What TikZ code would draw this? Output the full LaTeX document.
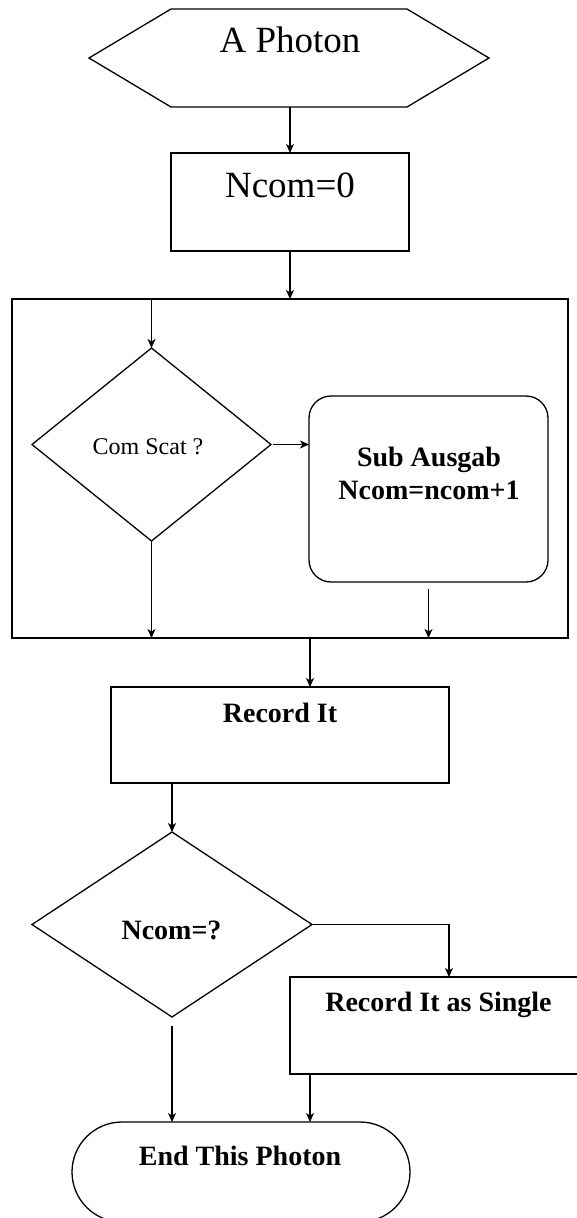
\documentclass[tikz,border=0pt]{standalone}
\usepackage{fontspec}
\setmainfont{Liberation Serif}
\usetikzlibrary{arrows.meta,shapes.geometric,shapes.misc,calc}
\begin{document}
\begin{tikzpicture}[x=1pt,y=-1pt,
  line width=1.3pt,
  box/.style={draw, rectangle, inner sep=0pt, outer sep=0pt},
  dia/.style={draw, diamond, inner sep=0pt, outer sep=0pt},
  arr/.style={-{Stealth[length=9pt,width=8pt,inset=2.5pt]}},
  largetext/.style={font=\fontsize{37}{44}\selectfont},
  boldtext/.style={font=\fontsize{28}{33}\selectfont\bfseries},
  txt/.style={anchor=base, inner sep=0pt},
]
\useasboundingbox (0,0) rectangle (577,1218);

% start hexagon
\node[inner sep=0pt, outer sep=0pt, minimum width=400pt, minimum height=98pt] (hex) at (289,58) {};
\draw (hex.west) -- ([xshift=82pt]hex.north west) -- ([xshift=-82pt]hex.north east)
  -- (hex.east) -- ([xshift=-82pt]hex.south east) -- ([xshift=82pt]hex.south west) -- cycle;
\node[txt, largetext] (t0) at (290,52) {A Photon};

\node[box, minimum width=238pt, minimum height=98pt] (n0) at (290,202) {};
\node[txt, largetext] (t1) at (290,197) {Ncom=0};

\node[box, minimum width=556pt, minimum height=339pt] (bigbox) at (290,468.5) {};

\node[dia, minimum width=239pt, minimum height=193pt] (d1) at (151.5,444.5) {};
\node[txt, font=\fontsize{24}{29}\selectfont] (t2) at (148,454) {Com Scat ?};

\node[draw, rectangle, rounded corners=22pt, minimum width=239pt, minimum height=186pt, inner sep=0pt, outer sep=0pt] (sub) at (428.5,489) {};
\node[txt, boldtext] (t3) at (429,466) {Sub Ausgab};
\node[txt, boldtext] (t4) at (429,499) {Ncom=ncom+1};

\node[box, minimum width=338pt, minimum height=96pt] (rec) at (280,735) {};
\node[txt, boldtext] (t5) at (280,722) {Record It};

\node[dia, minimum width=280pt, minimum height=185pt] (d2) at (172,924.5) {};
\node[txt, boldtext] (t6) at (171.5,939) {Ncom=?};

% box runs off the right edge of the page
\node[box, minimum width=330pt, minimum height=97pt] (single) at (455,1025.5) {};
\node[txt, boldtext] (t7) at (438.5,1011) {Record It as Single};

% terminator runs off the bottom edge of the page
\node[draw, rounded rectangle, minimum width=338pt, minimum height=100pt, inner sep=0pt, outer sep=0pt] (endp) at (241,1172) {};
\node[txt, boldtext] (t8) at (240,1165) {End This Photon};

% connectors
\draw[arr] (n0.north |- hex.south) -- (n0.north);
\draw[arr] (n0.south) -- (n0.south |- bigbox.north);
\draw[arr] (d1.north |- bigbox.north) -- (d1.north);
\draw[arr] ([xshift=2pt]d1.east) -- (sub.west |- d1.east);
\draw[arr] (d1.south) -- (d1.south |- bigbox.south);
\draw[arr] ([yshift=-7pt]sub.south) -- (sub.south |- bigbox.south);
\draw[arr] ([xshift=30pt]rec.north |- bigbox.south) -- ([xshift=30pt]rec.north);
\draw[arr] (d2.north |- rec.south) -- (d2.north);
\draw[arr] (d2.east) -| ([xshift=-6pt]single.north);
\draw[arr] ([yshift=-9pt]d2.south) -- (d2.south |- endp.north);
\draw[arr] ([xshift=-145pt]single.south) -- ([xshift=-145pt]single.south |- endp.north);
\end{tikzpicture}
\end{document}
